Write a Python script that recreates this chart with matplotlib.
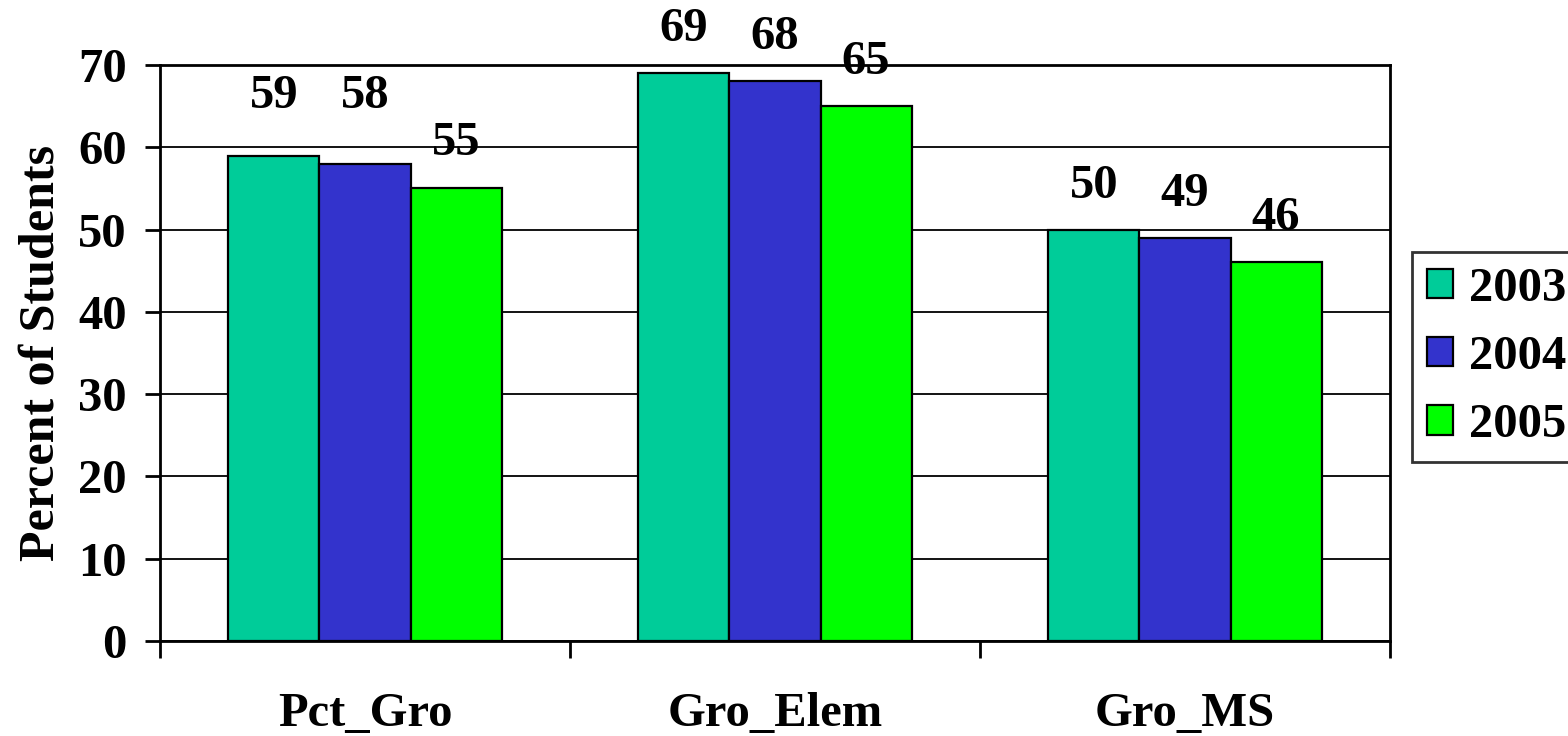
import matplotlib
matplotlib.use("Agg")
import matplotlib.pyplot as plt
import numpy as np

# ---------------------------------------------------------------- data
categories = ["Pct_Gro", "Gro_Elem", "Gro_MS"]
years = ["2003", "2004", "2005"]
vals_2003 = [59, 69, 50]
vals_2004 = [58, 68, 49]
vals_2005 = [55, 65, 46]
colors = ["#00CC99", "#3333CC", "#00FF00"]

# ---------------------------------------------------------------- plot
plt.rcParams["font.family"] = ["Liberation Serif", "DejaVu Serif"]
plt.rcParams["font.weight"] = "bold"
FS = 35

fig = plt.figure(figsize=(15.68, 7.36), dpi=100)
W, H = 1568, 736
ax = fig.add_axes([160 / W, (H - 641) / H, 1230 / W, 576 / H])

x = np.arange(len(categories))
bw = 0.222
series = [vals_2003, vals_2004, vals_2005]
# label lift above bar top, in px (first group was nudged up in the original)
lift = [[60, 44, 44], [68, 44, 44], [45, 44, 44]]
for i, (vals, yr, c) in enumerate(zip(series, years, colors)):
    pos = x + (i - 1) * bw
    ax.bar(pos, vals, bw, color=c, edgecolor="black", linewidth=1.6, label=yr, zorder=3)
    for j, (p, v) in enumerate(zip(pos, vals)):
        ax.annotate(f"{v}", (p, v), xytext=(0, lift[i][j] * 0.72), textcoords="offset points",
                    ha="center", va="center", fontsize=FS, fontweight="bold",
                    annotation_clip=False, zorder=4)

ax.set_xlim(-0.5, 2.5)
ax.set_ylim(0, 70)
ax.set_yticks(np.arange(0, 71, 10))
ax.yaxis.grid(True, color="black", linewidth=1.3, zorder=0)
ax.set_axisbelow(True)

# boundary ticks (major) and centred category labels (minor)
ax.set_xticks([-0.5, 0.5, 1.5, 2.5])
ax.set_xticklabels([])
ax.set_xticks(x, minor=True)
ax.set_xticklabels(categories, minor=True, fontsize=FS, fontweight="bold")
ax.tick_params(axis="x", which="minor", length=0, pad=37)
ax.tick_params(axis="x", which="major", length=12, width=2, direction="out")
ax.tick_params(axis="y", length=11, width=2, pad=13, labelsize=FS)
for lab in ax.get_yticklabels():
    lab.set_fontweight("bold")

for s in ax.spines.values():
    s.set_linewidth(2)
    s.set_color("black")

ax.set_ylabel("Percent of Students", fontsize=36, fontweight="bold", labelpad=10)

leg = fig.legend(loc="upper left", bbox_to_anchor=(1412 / W, 1 - 252 / H),
                 fontsize=FS, frameon=True, fancybox=False, edgecolor="black",
                 handlelength=0.55, handleheight=0.55, handletextpad=0.32,
                 labelspacing=0.5, borderpad=0.3, borderaxespad=0)
leg.get_frame().set_linewidth(2)
for t in leg.get_texts():
    t.set_fontweight("bold")
for h in leg.legend_handles:
    h.set_edgecolor("black")
    h.set_linewidth(1.6)

fig.savefig("out.png", dpi=100)
